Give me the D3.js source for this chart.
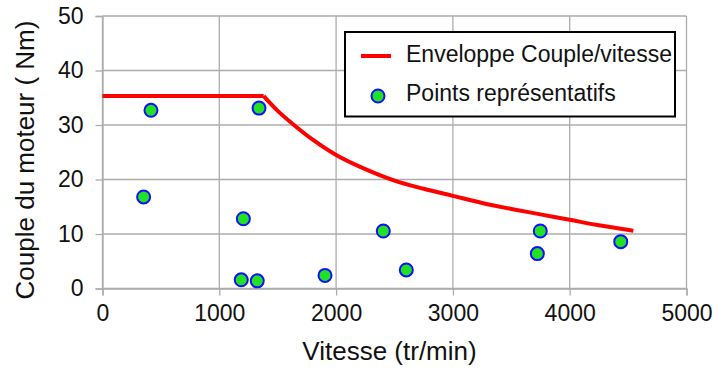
<!DOCTYPE html>
<html>
<head>
<meta charset="utf-8">
<script src="https://cdn.jsdelivr.net/npm/d3@7"></script>
<style>
  body { margin: 0; background: #fff; }
  svg { display: block; font-family: 'Liberation Sans', Arial, sans-serif; }
</style>
</head>
<body>
<div id="chart"></div>
<script>
// envelope torque/speed
const envelopeSpeed = [0, 1380, 1500, 1634, 1800, 2000, 2250, 2500, 2750, 3000, 3250, 3500, 3750, 4000, 4250, 4545]
const envelopeTorque = [35.3, 35.3, 32.6, 30.1, 27.3, 24.5, 21.9, 19.8, 18.3, 17.0, 15.7, 14.6, 13.6, 12.6, 11.6, 10.6]

// representative points
const pointSpeed = [415, 1340, 352, 1206, 1188, 1325, 1905, 2404, 2601, 3748, 3723, 4437]
const pointTorque = [32.7, 33.1, 16.8, 12.8, 1.6, 1.4, 2.4, 10.55, 3.4, 10.55, 6.4, 8.6]

const xTicks = [0, 1000, 2000, 3000, 4000, 5000]
const yTicks = [0, 10, 20, 30, 40, 50]
const legendLabels = ['Enveloppe Couple/vitesse', 'Points représentatifs']

const SIZE = Object.freeze({ WIDTH: 719, HEIGHT: 371 })
const PLOT = Object.freeze({ LEFT: 102.5, RIGHT: 686.5, TOP: 16, BOTTOM: 288.5 })
const GRID = '#acacac'

const xScale = d3.scaleLinear().domain([0, 5000]).range([PLOT.LEFT, PLOT.RIGHT])
const yScale = d3.scaleLinear().domain([0, 50]).range([PLOT.BOTTOM, PLOT.TOP])

const svg = d3.select('#chart')
  .append('svg')
  .attr('width', SIZE.WIDTH)
  .attr('height', SIZE.HEIGHT)

// grid
svg.append('g')
  .selectAll('line')
  .data(yTicks)
  .enter()
  .append('line')
  .attr('x1', PLOT.LEFT)
  .attr('x2', PLOT.RIGHT)
  .attr('y1', d => yScale(d))
  .attr('y2', d => yScale(d))
  .attr('stroke', GRID)
  .attr('stroke-width', 1.3)

svg.append('g')
  .selectAll('line')
  .data(xTicks)
  .enter()
  .append('line')
  .attr('y1', PLOT.TOP)
  .attr('y2', PLOT.BOTTOM)
  .attr('x1', d => xScale(d))
  .attr('x2', d => xScale(d))
  .attr('stroke', GRID)
  .attr('stroke-width', 1.3)

// axes
const xAxis = d3.axisBottom(xScale).tickValues(xTicks).tickFormat(d3.format('d')).tickSize(7).tickPadding(9)
const yAxis = d3.axisLeft(yScale).tickValues(yTicks).tickFormat(d3.format('d')).tickSize(7).tickPadding(12)

const gx = svg.append('g')
  .attr('transform', `translate(0, ${PLOT.BOTTOM})`)
  .call(xAxis)
const gy = svg.append('g')
  .attr('transform', `translate(${PLOT.LEFT}, 0)`)
  .call(yAxis)

;[gx, gy].forEach(g => {
  g.select('.domain').attr('stroke', GRID).attr('stroke-width', 1.3)
  g.selectAll('.tick line').attr('stroke', GRID).attr('stroke-width', 1.3)
  g.selectAll('.tick text')
    .attr('fill', '#111')
    .style('font-size', '23px')
    .style('font-family', "'Liberation Sans', Arial, sans-serif")
})

// axis titles
svg.append('text')
  .attr('x', (PLOT.LEFT + PLOT.RIGHT) / 2 - 5)
  .attr('y', 360)
  .attr('text-anchor', 'middle')
  .attr('fill', '#111')
  .style('font-size', '26px')
  .text('Vitesse (tr/min)')

svg.append('text')
  .attr('transform', 'translate(34, 160) rotate(-90)')
  .attr('text-anchor', 'middle')
  .attr('fill', '#111')
  .style('font-size', '26px')
  .text('Couple du moteur ( Nm)')

// envelope line: flat part straight, then smooth decline
const envelope = envelopeSpeed.map((s, i) => [s, envelopeTorque[i]])
const flatLine = d3.line()
  .x(d => xScale(d[0]))
  .y(d => yScale(d[1]))
const curveLine = d3.line()
  .x(d => xScale(d[0]))
  .y(d => yScale(d[1]))
  .curve(d3.curveCatmullRom.alpha(0.5))

const envG = svg.append('g')
  .attr('fill', 'none')
  .attr('stroke', '#ff0000')
  .attr('stroke-width', 4)
  .attr('stroke-linejoin', 'round')
envG.append('path').datum(envelope.slice(0, 2)).attr('d', flatLine)
envG.append('path').datum(envelope.slice(1)).attr('d', curveLine)

// points
const points = pointSpeed.map((s, i) => [s, pointTorque[i]])
svg.append('g')
  .selectAll('circle')
  .data(points)
  .enter()
  .append('circle')
  .attr('cx', d => xScale(d[0]))
  .attr('cy', d => yScale(d[1]))
  .attr('r', 6.5)
  .attr('fill', '#22e022')
  .attr('stroke', '#1010ff')
  .attr('stroke-width', 2)

// legend
const legend = svg.append('g')
legend.append('rect')
  .attr('x', 345)
  .attr('y', 32)
  .attr('width', 330)
  .attr('height', 84.5)
  .attr('fill', '#fff')
  .attr('stroke', '#000')
  .attr('stroke-width', 2)

legend.append('line')
  .attr('x1', 361)
  .attr('x2', 391)
  .attr('y1', 56)
  .attr('y2', 56)
  .attr('stroke', '#ff0000')
  .attr('stroke-width', 4)

legend.append('circle')
  .attr('cx', 378)
  .attr('cy', 96)
  .attr('r', 6.5)
  .attr('fill', '#22e022')
  .attr('stroke', '#1010ff')
  .attr('stroke-width', 2)

legend.selectAll('text')
  .data(legendLabels)
  .enter()
  .append('text')
  .attr('x', 406)
  .attr('y', (d, i) => 62 + i * 39)
  .attr('fill', '#111')
  .style('font-size', '23px')
  .text(d => d)
</script>
</body>
</html>
